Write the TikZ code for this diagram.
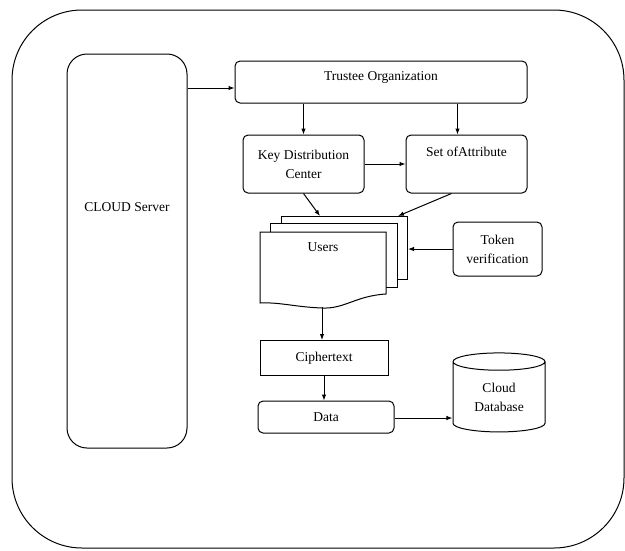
\documentclass[tikz,border=0pt]{standalone}
\usepackage{fontspec}
\setmainfont{Liberation Serif}
\usetikzlibrary{shapes.geometric,arrows.meta}
\tikzset{
    RB1/.style ={rectangle,rounded corners=5pt,draw,line width=1pt,align=center,inner sep=0pt},
    RB2/.style ={rectangle,rounded corners=20pt,draw,line width=1pt,inner sep=0pt},
    SB1/.style ={rectangle,draw,line width=1pt,align=center,inner sep=0pt},
    DB1/.style ={cylinder,shape border rotate=90,aspect=0.35,draw,line width=1pt,align=center,inner sep=0pt},
    PG/.style ={draw,line width=1pt,fill=white},
    AR/.style ={-{Latex[length=6pt,width=4.5pt]},line width=1pt}
}
\begin{document}
\begin{tikzpicture}[x=1pt,y=-1pt,font=\fontsize{13.5}{19}\selectfont]
        \useasboundingbox (0,0) rectangle (625,550);
        \draw[line width=1pt,rounded corners=70pt] (12,10) rectangle (624,548);
        % server side
        \node[RB2,minimum width=120pt,minimum height=394pt] (cs) at (127,251) {};
        \node (cst) at (127,207) {CLOUD Server};
        % key management
        \node[RB1,minimum width=292pt,minimum height=42pt,text depth=12pt] (to) at (381,82) {Trustee Organization};
        \node[RB1,minimum width=121pt,minimum height=58pt] (kdc) at (303.5,164) {Key Distribution\\Center};
        \node[RB1,minimum width=121pt,minimum height=58pt,text depth=24pt] (soa) at (466.5,164) {Set ofAttribute};
        \node[RB1,minimum width=89pt,minimum height=54pt] (tv) at (497.5,249) {Token\\verification};
        % users
        \draw[PG] (281,216) rectangle (407,279);
        \draw[PG] (270,223) rectangle (397,287);
        \draw[PG] (260,232) -- (386,232) -- (386,294)
            .. controls (355,296) and (345,309) .. (322,308)
            .. controls (295,307) and (280,302) .. (260,303) -- cycle;
        \node (us) at (323,247) {Users};
        \coordinate (ust) at (320,216);
        \coordinate (usr) at (398,216);
        \coordinate (use) at (408,249);
        \coordinate (usb) at (322,307);
        % data flow
        \node[SB1,minimum width=128pt,minimum height=35pt] (ct) at (324,358) {Ciphertext};
        \node[RB1,minimum width=136pt,minimum height=32pt] (da) at (326,417) {Data};
        \node[DB1,minimum width=92pt,minimum height=79pt] (db) at (499,397) {Cloud\\Database};
        % arrows
        \coordinate (toa) at ([yshift=-6pt]to.west);
        \draw[AR] (cs.east |- toa) -- (toa);
        \draw[AR] (to.south -| kdc.north) -- (kdc.north);
        \draw[AR] ([xshift=-9pt]soa.north |- to.south) -- ([xshift=-9pt]soa.north);
        \draw[AR] (kdc.east) -- (soa.west);
        \draw[AR] (kdc.south) -- (ust);
        \draw[AR] ([xshift=-15pt]soa.south) -- (usr);
        \draw[AR] (tv.west) -- (use);
        \draw[AR] (usb) -- (usb |- ct.north);
        \draw[AR] (ct.south) -- (ct.south |- da.north);
        \draw[AR] ([yshift=-1pt]da.east) -- ([yshift=-1pt]da.east -| db.west);
    \end{tikzpicture}
\end{document}
